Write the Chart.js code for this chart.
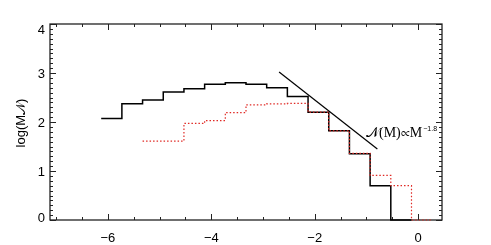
<!DOCTYPE html>
<html>
<head>
<meta charset="utf-8">
<script src="https://cdn.jsdelivr.net/npm/chart.js@4"></script>
<style>
  html, body { margin: 0; padding: 0; background: #fff; }
  #wrap { width: 491px; height: 245px; }
</style>
</head>
<body>
<div id="wrap"><canvas id="massChart" width="491" height="245"></canvas></div>
<script>
// ---- data ----
// bin edges (log M), 0.4 wide
const binEdges = [-6.13, -5.73, -5.33, -4.93, -4.53, -4.13, -3.73, -3.33, -2.93, -2.53, -2.13, -1.73, -1.33, -0.93, -0.53, -0.13, 0.27];
// solid black histogram, starts at first edge
const allValues = [2.07, 2.37, 2.45, 2.61, 2.68, 2.77, 2.80, 2.77, 2.70, 2.52, 2.20, 1.82, 1.35, 0.70, 0];
// dotted red histogram, starts at third edge
const redStart = 2;
const subValues = [1.61, 1.61, 1.97, 2.03, 2.19, 2.35, 2.37, 2.38, 2.20, 1.82, 1.36, 0.91, 0.70, 0];
// power-law guide line N(M) ~ M^-1.8
const fitX = [-2.69, -0.79];
const fitY = [3.02, 1.45];

const xTicks = [-6, -4, -2, 0];
const yTicks = [0, 1, 2, 3, 4];

// histogram -> step points (left edge of each bin + closing right edge)
function histPoints(edges, values, offset) {
  const pts = values.map((v, i) => ({ x: edges[offset + i], y: v }));
  pts.push({ x: edges[offset + values.length], y: values[values.length - 1] });
  return pts;
}

const frameColor = '#222';
const labelFont = '13px "Liberation Sans", sans-serif';

// box with inward ticks on all four sides (under the data)
const framePlugin = {
  id: 'frame',
  beforeDatasetsDraw(chart) {
    const { ctx, chartArea: a, scales } = chart;
    const xs = scales.x, ys = scales.y;
    ctx.save();
    ctx.strokeStyle = frameColor;
    ctx.lineWidth = 1.3;
    ctx.strokeRect(a.left, a.top, a.right - a.left, a.bottom - a.top);

    ctx.lineWidth = 1;
    ctx.beginPath();
    // x ticks every 0.5, major every 2
    for (let k = -14; k <= 0; k++) {
      const v = k * 0.5;
      const px = Math.round(xs.getPixelForValue(v)) + 0.5;
      const len = (v % 2 === 0) ? 6 : 3;
      ctx.moveTo(px, a.bottom); ctx.lineTo(px, a.bottom - len);
      ctx.moveTo(px, a.top); ctx.lineTo(px, a.top + len);
    }
    // y ticks every 0.1, major every 1
    for (let k = 0; k <= 40; k++) {
      const py = Math.round(ys.getPixelForValue(k / 10)) + 0.5;
      const len = (k % 10 === 0) ? 6 : 3;
      ctx.moveTo(a.left, py); ctx.lineTo(a.left + len, py);
      ctx.moveTo(a.right, py); ctx.lineTo(a.right - len, py);
    }
    ctx.stroke();
    ctx.restore();
  },
  afterDraw(chart) {
    const { ctx, chartArea: a, scales } = chart;
    const ys = scales.y;
    ctx.save();
    ctx.fillStyle = '#000';

    // y tick labels, kept inside the axis span like the original plot
    ctx.font = labelFont;
    ctx.textAlign = 'right';
    ctx.textBaseline = 'middle';
    yTicks.forEach(v => {
      let py = ys.getPixelForValue(v);
      py = Math.min(Math.max(py, a.top + 5), a.bottom - 3);
      ctx.fillText(String(v), 45, py + 1);
    });

    // y axis title
    ctx.save();
    ctx.translate(21, 123);
    ctx.rotate(-Math.PI / 2);
    ctx.font = labelFont;
    ctx.textAlign = 'center';
    ctx.fillText('log(M\u{1D4A9})', 0, 0);
    ctx.restore();

    // annotation next to the guide line
    ctx.font = '14px "Liberation Serif", serif';
    ctx.textAlign = 'left';
    ctx.textBaseline = 'alphabetic';
    const main = '\u{1D4A9}(M)\u221DM';
    const tx = 366, ty = 137;
    ctx.fillText(main, tx, ty);
    const w = ctx.measureText(main).width;
    ctx.font = '7px "Liberation Sans", sans-serif';
    ctx.fillText('\u22121.8', tx + w + 1, ty - 6);
    ctx.restore();
  }
};

new Chart(document.getElementById('massChart'), {
  type: 'scatter',
  data: {
    datasets: [
      {
        label: 'subset',
        data: histPoints(binEdges, subValues, redStart),
        showLine: true,
        stepped: true,
        borderColor: '#e02a25',
        borderWidth: 1.2,
        borderDash: [1.5, 2],
        pointRadius: 0,
        clip: 3,
        order: 0
      },
      {
        label: 'all',
        data: histPoints(binEdges, allValues, 0),
        showLine: true,
        stepped: true,
        borderColor: '#000',
        borderWidth: 1.5,
        pointRadius: 0,
        clip: 3,
        order: 1
      },
      {
        label: 'fit',
        data: fitX.map((x, i) => ({ x: x, y: fitY[i] })),
        showLine: true,
        borderColor: '#000',
        borderWidth: 1.2,
        pointRadius: 0,
        order: 2
      }
    ]
  },
  options: {
    responsive: false,
    animation: false,
    devicePixelRatio: 1,
    layout: { padding: { top: 24, right: 49, left: 0, bottom: 0 } },
    plugins: { legend: { display: false }, tooltip: { enabled: false } },
    scales: {
      x: {
        type: 'linear',
        min: -7.12,
        max: 0.46,
        grid: { display: false },
        border: { display: false },
        afterBuildTicks: (s) => { s.ticks = xTicks.map(v => ({ value: v })); },
        afterFit: (s) => { s.height = 25; },
        ticks: {
          color: '#000',
          font: { family: '"Liberation Sans", sans-serif', size: 13 },
          padding: 3,
          maxRotation: 0,
          callback: (v) => String(v).replace('-', '\u2212')
        }
      },
      y: {
        min: 0,
        max: 4,
        grid: { display: false },
        border: { display: false },
        afterBuildTicks: (s) => { s.ticks = yTicks.map(v => ({ value: v })); },
        afterFit: (s) => { s.width = 50; },
        ticks: { display: false }
      }
    }
  },
  plugins: [framePlugin]
});
</script>
</body>
</html>
